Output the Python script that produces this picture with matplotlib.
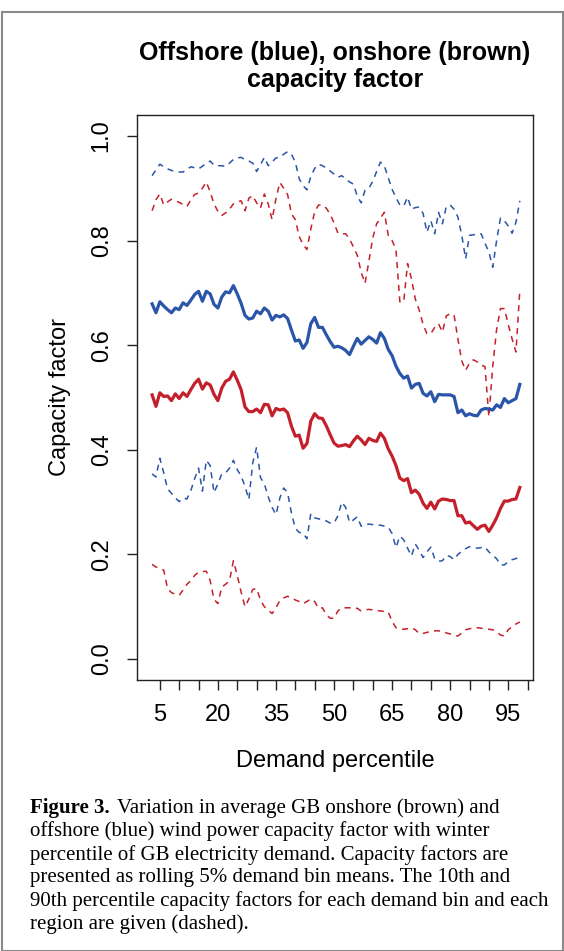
import matplotlib
matplotlib.use("Agg")
import matplotlib.pyplot as plt
from matplotlib.patches import Rectangle

# demand percentile (rolling 5% bin centres)
pct = list(range(3, 99))

blue_mean = [0.679, 0.662, 0.683, 0.675, 0.668, 0.662, 0.671, 0.668, 0.681, 0.676,
             0.686, 0.697, 0.703, 0.684, 0.703, 0.698, 0.678, 0.671, 0.692, 0.702,
             0.700, 0.714, 0.698, 0.680, 0.657, 0.650, 0.652, 0.665, 0.660, 0.671,
             0.665, 0.648, 0.657, 0.654, 0.658, 0.651, 0.629, 0.608, 0.610, 0.594,
             0.605, 0.641, 0.653, 0.634, 0.634, 0.620, 0.607, 0.596, 0.598, 0.595,
             0.590, 0.582, 0.598, 0.613, 0.602, 0.609, 0.616, 0.611, 0.604, 0.624,
             0.613, 0.592, 0.580, 0.560, 0.546, 0.537, 0.541, 0.518, 0.525, 0.527,
             0.508, 0.503, 0.511, 0.492, 0.506, 0.505, 0.505, 0.505, 0.502, 0.471,
             0.476, 0.465, 0.469, 0.466, 0.465, 0.476, 0.479, 0.478, 0.476, 0.486,
             0.481, 0.498, 0.490, 0.494, 0.498, 0.525]

red_mean = [0.505, 0.483, 0.509, 0.502, 0.503, 0.494, 0.507, 0.498, 0.509, 0.502,
            0.515, 0.527, 0.535, 0.516, 0.528, 0.524, 0.506, 0.494, 0.518, 0.531,
            0.535, 0.549, 0.533, 0.515, 0.482, 0.473, 0.473, 0.478, 0.471, 0.487,
            0.486, 0.465, 0.479, 0.476, 0.478, 0.471, 0.445, 0.426, 0.428, 0.403,
            0.412, 0.455, 0.469, 0.461, 0.460, 0.446, 0.429, 0.413, 0.407, 0.408,
            0.410, 0.406, 0.417, 0.426, 0.419, 0.410, 0.422, 0.418, 0.416, 0.432,
            0.422, 0.402, 0.388, 0.370, 0.346, 0.341, 0.345, 0.318, 0.323, 0.315,
            0.298, 0.288, 0.300, 0.287, 0.302, 0.306, 0.305, 0.303, 0.303, 0.274,
            0.274, 0.260, 0.262, 0.255, 0.248, 0.254, 0.256, 0.244, 0.256, 0.270,
            0.288, 0.302, 0.302, 0.305, 0.306, 0.328]

blue_p90 = [0.924, 0.935, 0.946, 0.941, 0.937, 0.934, 0.932, 0.931, 0.931, 0.936,
            0.941, 0.939, 0.937, 0.942, 0.948, 0.952, 0.944, 0.943, 0.943, 0.942,
            0.948, 0.955, 0.958, 0.959, 0.955, 0.952, 0.948, 0.932, 0.945, 0.959,
            0.943, 0.950, 0.958, 0.959, 0.965, 0.970, 0.965, 0.950, 0.918, 0.905,
            0.897, 0.922, 0.938, 0.946, 0.943, 0.939, 0.933, 0.927, 0.921, 0.924,
            0.918, 0.912, 0.908, 0.885, 0.872, 0.896, 0.900, 0.913, 0.932, 0.950,
            0.943, 0.920, 0.898, 0.882, 0.868, 0.866, 0.883, 0.860, 0.863, 0.864,
            0.852, 0.816, 0.838, 0.813, 0.854, 0.832, 0.865, 0.868, 0.860, 0.845,
            0.810, 0.765, 0.810, 0.811, 0.812, 0.813, 0.795, 0.778, 0.749, 0.800,
            0.843, 0.838, 0.828, 0.814, 0.835, 0.876]

red_p90 = [0.857, 0.878, 0.889, 0.868, 0.874, 0.879, 0.876, 0.873, 0.869, 0.865,
           0.878, 0.888, 0.891, 0.900, 0.912, 0.893, 0.870, 0.856, 0.848, 0.853,
           0.860, 0.870, 0.874, 0.876, 0.857, 0.881, 0.886, 0.872, 0.862, 0.889,
           0.870, 0.840, 0.880, 0.911, 0.900, 0.888, 0.851, 0.840, 0.808, 0.792,
           0.783, 0.822, 0.855, 0.868, 0.868, 0.862, 0.850, 0.834, 0.814, 0.813,
           0.813, 0.803, 0.788, 0.772, 0.740, 0.718, 0.760, 0.805, 0.832, 0.843,
           0.854, 0.810, 0.800, 0.783, 0.683, 0.683, 0.756, 0.727, 0.688, 0.667,
           0.640, 0.622, 0.622, 0.634, 0.641, 0.625, 0.656, 0.660, 0.658, 0.612,
           0.570, 0.552, 0.566, 0.572, 0.568, 0.562, 0.559, 0.463, 0.560, 0.630,
           0.670, 0.670, 0.640, 0.612, 0.587, 0.706]

blue_p10 = [0.354, 0.348, 0.384, 0.356, 0.325, 0.317, 0.308, 0.301, 0.308, 0.306,
            0.322, 0.345, 0.365, 0.321, 0.380, 0.370, 0.318, 0.335, 0.354, 0.356,
            0.365, 0.380, 0.362, 0.350, 0.330, 0.305, 0.375, 0.405, 0.347, 0.335,
            0.310, 0.290, 0.276, 0.308, 0.327, 0.318, 0.279, 0.250, 0.242, 0.241,
            0.230, 0.278, 0.270, 0.268, 0.267, 0.264, 0.260, 0.260, 0.274, 0.300,
            0.290, 0.261, 0.266, 0.272, 0.254, 0.257, 0.258, 0.257, 0.256, 0.256,
            0.254, 0.252, 0.240, 0.213, 0.235, 0.228, 0.212, 0.197, 0.220, 0.208,
            0.194, 0.205, 0.214, 0.192, 0.187, 0.188, 0.198, 0.196, 0.190, 0.200,
            0.206, 0.211, 0.215, 0.213, 0.212, 0.213, 0.214, 0.205, 0.198, 0.192,
            0.180, 0.180, 0.186, 0.190, 0.192, 0.197]

red_p10 = [0.181, 0.176, 0.173, 0.170, 0.135, 0.127, 0.124, 0.122, 0.132, 0.143,
           0.150, 0.160, 0.166, 0.167, 0.168, 0.150, 0.114, 0.106, 0.138, 0.143,
           0.150, 0.188, 0.160, 0.128, 0.100, 0.115, 0.133, 0.135, 0.113, 0.100,
           0.094, 0.087, 0.098, 0.112, 0.117, 0.120, 0.117, 0.113, 0.110, 0.106,
           0.110, 0.115, 0.110, 0.097, 0.098, 0.085, 0.078, 0.078, 0.092, 0.098,
           0.098, 0.098, 0.098, 0.097, 0.092, 0.094, 0.095, 0.094, 0.093, 0.092,
           0.091, 0.090, 0.072, 0.060, 0.058, 0.057, 0.058, 0.060, 0.056, 0.049,
           0.049, 0.051, 0.053, 0.054, 0.054, 0.053, 0.050, 0.048, 0.046, 0.044,
           0.050, 0.056, 0.058, 0.059, 0.060, 0.059, 0.058, 0.057, 0.056, 0.052,
           0.046, 0.044, 0.056, 0.062, 0.067, 0.071]

x_ticks = list(range(5, 101, 5))
x_labels = [5, 20, 35, 50, 65, 80, 95]
y_ticks = [0.0, 0.2, 0.4, 0.6, 0.8, 1.0]

caption_lines = [
    "offshore (blue) wind power capacity factor with winter",
    "percentile of GB electricity demand. Capacity factors are",
    "presented as rolling 5% demand bin means. The 10th and",
    "90th percentile capacity factors for each demand bin and each",
    "region are given (dashed).",
]

BLUE = "#2b55a8"
RED = "#c4202b"
W, H = 564, 951

plt.rcParams["font.family"] = ["Liberation Sans", "DejaVu Sans"]

fig = plt.figure(figsize=(W / 100, H / 100), dpi=100)
fig.patches.append(Rectangle((1.5 / W, 0), 1 - 3 / W, 1 - 12 / H, transform=fig.transFigure,
                             fill=False, edgecolor="#8a8a8a", linewidth=1.5))

ax = fig.add_axes([137 / W, 1 - 680 / H, 396 / W, 565 / H])
dash = (0, (4, 3.5))
ax.plot(pct, blue_p90, color=BLUE, lw=1.1, linestyle=dash)
ax.plot(pct, red_p90, color=RED, lw=1.1, linestyle=dash)
ax.plot(pct, blue_p10, color=BLUE, lw=1.1, linestyle=dash)
ax.plot(pct, red_p10, color=RED, lw=1.1, linestyle=dash)
ax.plot(pct, blue_mean, color=BLUE, lw=2.3)
ax.plot(pct, red_mean, color=RED, lw=2.3)

ax.set_xlim(-0.9, 101.4)
ax.set_ylim(-0.04, 1.04)
ax.set_xticks(x_ticks)
ax.set_xticklabels([str(t) if t in x_labels else "" for t in x_ticks])
ax.set_yticks(y_ticks)
ax.set_yticklabels([f"{v:.1f}" for v in y_ticks], rotation=90, va="center")
ax.tick_params(axis="both", length=7.5, width=1, labelsize=17, color="#222222")
ax.tick_params(axis="x", pad=10)
ax.tick_params(axis="y", pad=10)
for s in ax.spines.values():
    s.set_linewidth(1.0)
    s.set_color("#222222")

ax.set_xlabel("Demand percentile", fontsize=17, labelpad=17)
ax.set_ylabel("Capacity factor", fontsize=17, labelpad=14)
ax.set_title("Offshore (blue), onshore (brown)\ncapacity factor", fontsize=18,
             fontweight="bold", pad=20, linespacing=1.15)

# caption
cap_font = ["Liberation Serif", "DejaVu Serif"]
cap_size = 15
t0 = fig.text(30 / W, 1 - 808 / H, "Figure 3.", family=cap_font, fontweight="bold",
              fontsize=cap_size, va="center")
fig.canvas.draw()
bb = t0.get_window_extent()
fig.text((bb.x1 + 7) / W, 1 - 808 / H, "Variation in average GB onshore (brown) and",
         family=cap_font, fontsize=cap_size, va="center")
for i, line in enumerate(caption_lines):
    fig.text(30 / W, 1 - (808 + 23.3 * (i + 1)) / H, line, family=cap_font,
             fontsize=cap_size, va="center")

fig.savefig("out.png", dpi=100)
